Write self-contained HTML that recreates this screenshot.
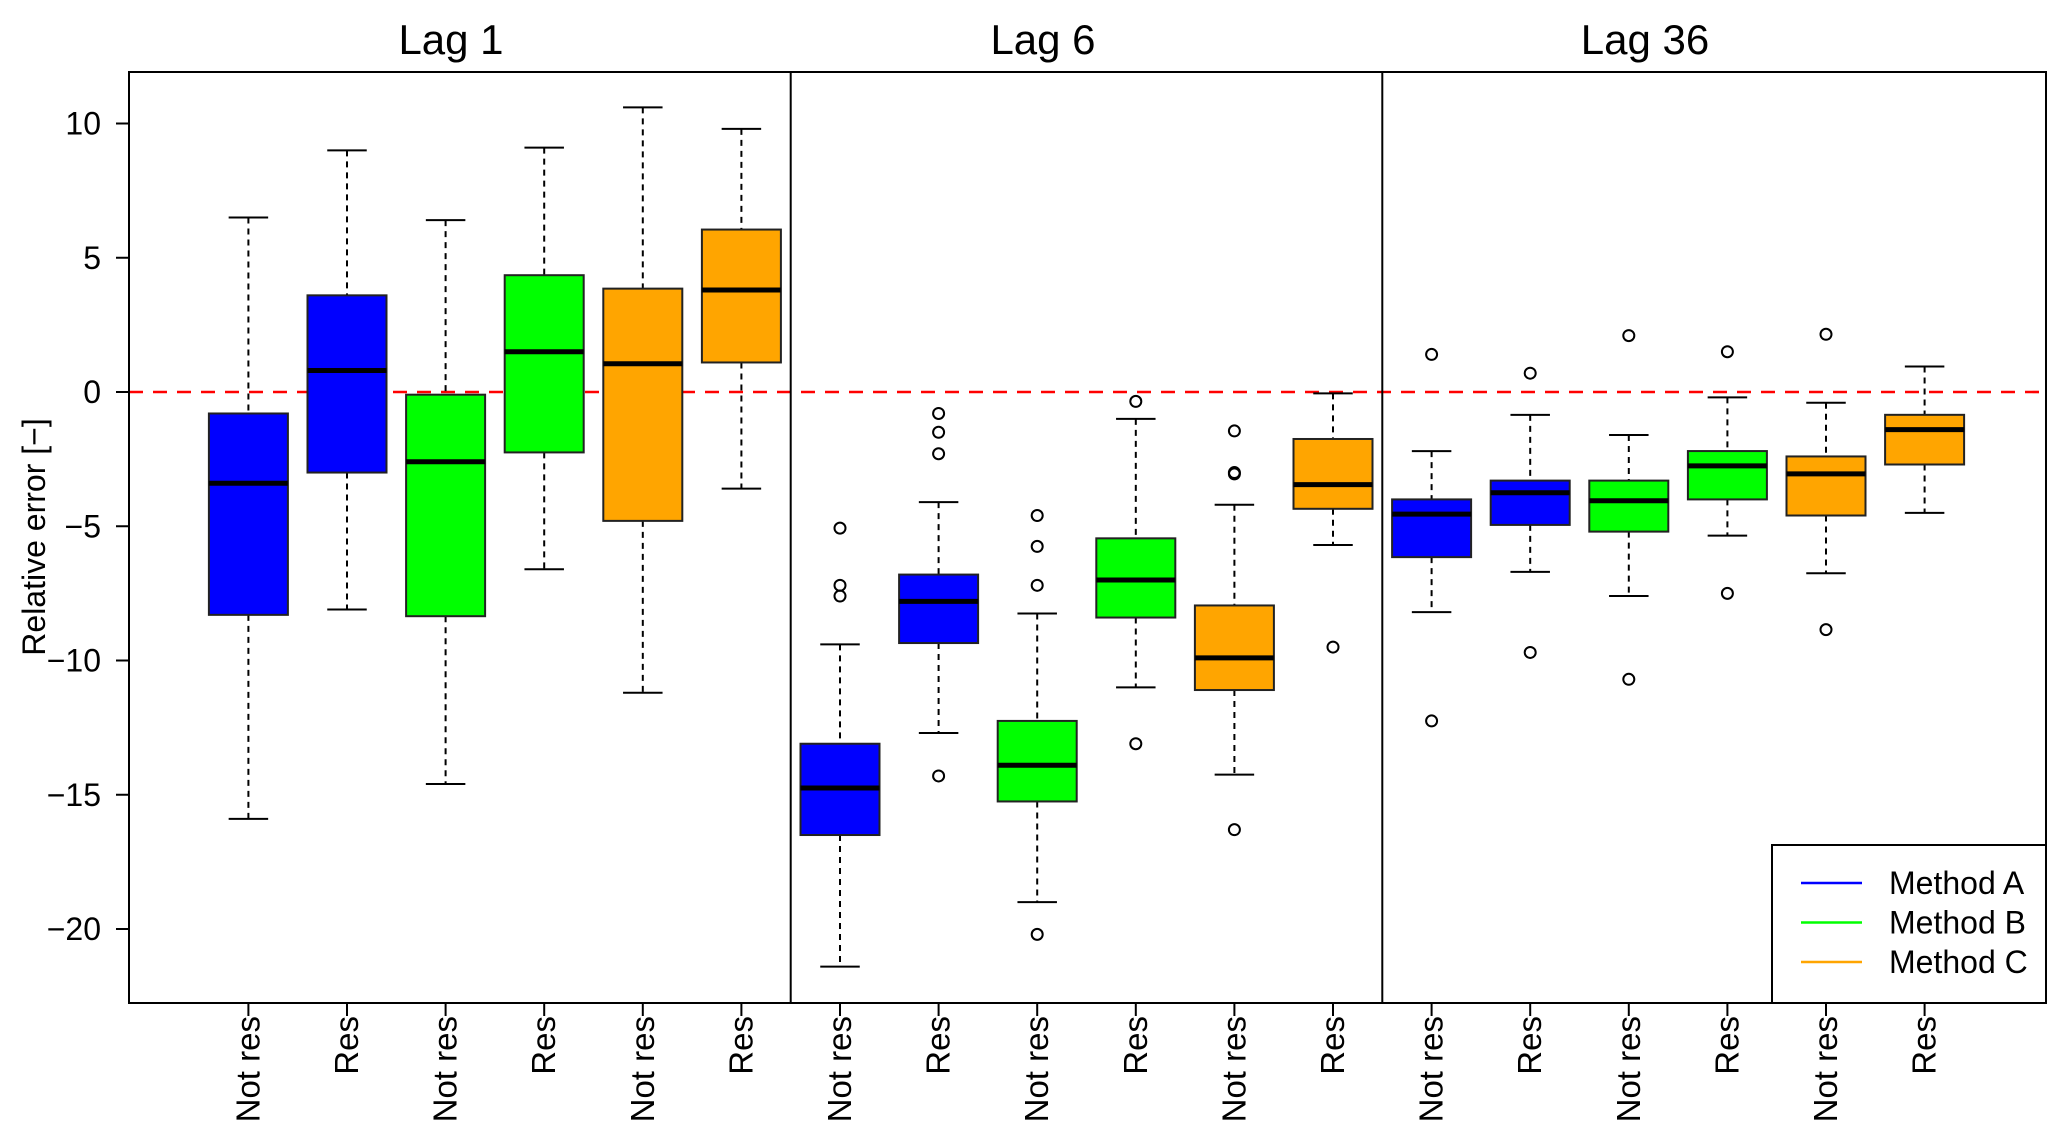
<!DOCTYPE html>
<html><head><meta charset="utf-8"><style>
html,body{margin:0;padding:0;background:#fff;}
svg{display:block;font-family:"Liberation Sans",Arial,sans-serif;}
</style></head><body>
<svg id="chart" xmlns="http://www.w3.org/2000/svg" width="2068" height="1147" viewBox="0 0 2068 1147">
<g id="marks"></g>
</svg>
<script>
const panels = ["Lag 1","Lag 6","Lag 36"];
const categories = ["Not res","Res","Not res","Res","Not res","Res","Not res","Res","Not res","Res","Not res","Res","Not res","Res","Not res","Res","Not res","Res"];
const methods = ["A","A","B","B","C","C","A","A","B","B","C","C","A","A","B","B","C","C"];
const whiskerHigh = [6.5,9.0,6.4,9.1,10.6,9.8, -9.4,-4.1,-8.25,-1.0,-4.2,-0.05, -2.2,-0.85,-1.6,-0.2,-0.4,0.95];
const q3 = [-0.8,3.6,-0.1,4.35,3.85,6.05, -13.1,-6.8,-12.25,-5.45,-7.95,-1.75, -4.0,-3.3,-3.3,-2.2,-2.4,-0.85];
const medians = [-3.4,0.8,-2.6,1.5,1.05,3.8, -14.75,-7.8,-13.9,-7.0,-9.9,-3.45, -4.55,-3.75,-4.05,-2.75,-3.05,-1.4];
const q1 = [-8.3,-3.0,-8.35,-2.25,-4.8,1.1, -16.5,-9.35,-15.25,-8.4,-11.1,-4.35, -6.15,-4.95,-5.2,-4.0,-4.6,-2.7];
const whiskerLow = [-15.9,-8.1,-14.6,-6.6,-11.2,-3.6, -21.4,-12.7,-19.0,-11.0,-14.25,-5.7, -8.2,-6.7,-7.6,-5.35,-6.75,-4.5];
const outliers = [[],[],[],[],[],[], [-5.07,-7.2,-7.6],[-0.8,-1.5,-2.3,-14.3],[-4.6,-5.75,-7.2,-20.2],[-0.35,-13.1],[-1.45,-3.0,-3.05,-16.3],[-9.5], [1.4,-12.25],[0.7,-9.7],[2.1,-10.7],[1.5,-7.5],[2.15,-8.85],[]];
const yTicks = [10,5,0,-5,-10,-15,-20];
const yTickLabels = ["10","5","0","\u22125","\u221210","\u221215","\u221220"];
const legendLabels = ["Method A","Method B","Method C"];

const colors = {A:"#0000ff",B:"#00ff00",C:"#ffa500"};
const titleX = [451,1043,1645];
const L=129,R=2046,T=72,B=1003;
function y(v){return 392 - v*26.85;}
function x(i){return 248.4 + i*98.6;}
const BW=79;
const NS="http://www.w3.org/2000/svg";
const svg=document.getElementById('chart');
const g=document.getElementById('marks');
function el(tag,attrs,parent){const e=document.createElementNS(NS,tag);for(const k in attrs)e.setAttribute(k,attrs[k]);(parent||g).appendChild(e);return e;}

const zl=el('line',{x1:L,x2:R,y1:y(0),y2:y(0),stroke:'#ff0000','stroke-width':2.6,'stroke-dasharray':'14,10'});



categories.forEach((c,i)=>{
  const cx=x(i);
  const grp=el('g',{});
  
  
  el('line',{x1:cx,x2:cx,y1:y(whiskerHigh[i]),y2:y(q3[i]),stroke:'#000','stroke-width':2,'stroke-dasharray':'6,5'},grp);
  el('line',{x1:cx,x2:cx,y1:y(q1[i]),y2:y(whiskerLow[i]),stroke:'#000','stroke-width':2,'stroke-dasharray':'6,5'},grp);
  el('line',{x1:cx-BW/4,x2:cx+BW/4,y1:y(whiskerHigh[i]),y2:y(whiskerHigh[i]),stroke:'#000','stroke-width':2},grp);
  el('line',{x1:cx-BW/4,x2:cx+BW/4,y1:y(whiskerLow[i]),y2:y(whiskerLow[i]),stroke:'#000','stroke-width':2},grp);
  el('rect',{x:cx-BW/2,y:y(q3[i]),width:BW,height:y(q1[i])-y(q3[i]),fill:colors[methods[i]],stroke:'#222','stroke-width':2},grp);
  el('line',{x1:cx-BW/2,x2:cx+BW/2,y1:y(medians[i]),y2:y(medians[i]),stroke:'#000','stroke-width':5},grp);
  outliers[i].forEach(o=>{
    const c2=el('circle',{cx:cx,cy:y(o),r:5.5,fill:'none',stroke:'#000','stroke-width':2},grp);
    
    
  });
  el('line',{x1:cx,x2:cx,y1:B,y2:B+13,stroke:'#000','stroke-width':2});
  const t=el('text',{x:0,y:0,transform:'translate('+(cx+11)+','+(B+13)+') rotate(-90)','text-anchor':'end','font-size':33,fill:'#000'});
  t.textContent=c;
  
  
});

const fr=el('rect',{x:L,y:T,width:R-L,height:B-T,fill:'none',stroke:'#000','stroke-width':2});


[1,2].forEach(k=>{
  const xd=(x(6*k-1)+x(6*k))/2;
  const d=el('line',{x1:xd,x2:xd,y1:T,y2:B,stroke:'#000','stroke-width':2});
  
  
});
panels.forEach((p,k)=>{
  const t=el('text',{x:titleX[k],y:54,'text-anchor':'middle','font-size':42,fill:'#000'});
  t.textContent=p;
  
  
});
yTicks.forEach((v,i)=>{
  el('line',{x1:L-13,x2:L,y1:y(v),y2:y(v),stroke:'#000','stroke-width':2});
  const t=el('text',{x:101,y:y(v)+11,'text-anchor':'end','font-size':32,fill:'#000'});
  t.textContent=yTickLabels[i];
  
  
});
const yt=el('text',{x:0,y:0,transform:'translate(45,537) rotate(-90)','text-anchor':'middle','font-size':32,fill:'#000'});
yt.textContent='Relative error [\u2212]';



const lg=el('g',{});


el('rect',{x:1772,y:845,width:R-1772,height:B-845,fill:'#fff',stroke:'#000','stroke-width':2},lg);
legendLabels.forEach((lab,i)=>{
  const yy=883+i*39.5;
  const e=el('g',{},lg);
  
  
  el('line',{x1:1801,x2:1862,y1:yy,y2:yy,stroke:colors["ABC"[i]],'stroke-width':2.6},e);
  const t=el('text',{x:1889,y:yy+11,'font-size':32,fill:'#000'},e);
  t.textContent=lab;
});
</script>
</body></html>
